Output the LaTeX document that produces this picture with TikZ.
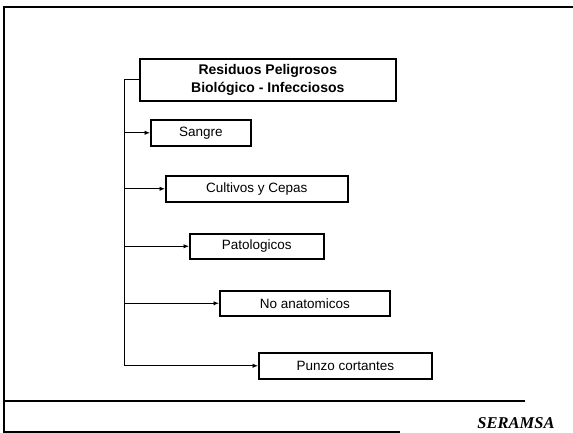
\documentclass[tikz,border=0pt]{standalone}
\usepackage{fontspec}
\setmainfont{Liberation Sans}
\newfontfamily\serifbi{Liberation Serif}
\usetikzlibrary{arrows.meta}
\begin{document}
\begin{tikzpicture}[x=1pt,y=-1pt,
  catbox/.style={draw,line width=1.6pt,inner sep=0pt,font=\fontsize{13.5}{16}\selectfont,anchor=north west},
  link/.style={line width=0.9pt,-{Latex[length=5.5pt,width=4.5pt]}},
  frame/.style={line width=1.3pt}]
\useasboundingbox (0,0) rectangle (573,433);
% frame
\coordinate (ftl) at (4,7);
\coordinate (ftr) at (573,7);
\coordinate (fbl) at (4,432);
\coordinate (fbr) at (400,432);
\coordinate (sl) at (4,401);
\coordinate (sr) at (525,401);
\draw[frame] (ftr) -- (ftl) -- (fbl) -- (fbr);
\draw[line width=2.2pt] (sl) -- (sr);
\node[font=\serifbi\bfseries\itshape\fontsize{16.5}{18}\selectfont] (logo) at (516,423) {SERAMSA};
% boxes
\node[catbox,minimum width=256pt,minimum height=42pt,align=center,font=\bfseries\fontsize{14}{17.5}\selectfont] (main) at (139,58) {Residuos Peligrosos\\Biológico - Infecciosos};
\node[catbox,minimum width=100pt,minimum height=26pt] (sangre) at (150,119) {Sangre};
\node[catbox,minimum width=182pt,minimum height=26pt] (cult) at (165,175) {Cultivos y Cepas};
\node[catbox,minimum width=134pt,minimum height=25pt] (pato) at (189,233) {Patologicos};
\node[catbox,minimum width=170pt,minimum height=25pt] (noan) at (219,290) {No anatomicos};
\node[catbox,minimum width=173pt,minimum height=26pt] (punzo) at (258,352) {Punzo cortantes};
% connectors
\coordinate (trunk) at (124,0);
\draw[line width=0.9pt] (main.west) -- (trunk |- main.west) -- (trunk |- punzo.west);
\draw[link] (trunk |- sangre.west) -- (sangre.west);
\draw[link] (trunk |- cult.west) -- (cult.west);
\draw[link] (trunk |- pato.west) -- (pato.west);
\draw[link] (trunk |- noan.west) -- (noan.west);
\draw[link] (trunk |- punzo.west) -- (punzo.west);
\end{tikzpicture}
\end{document}
